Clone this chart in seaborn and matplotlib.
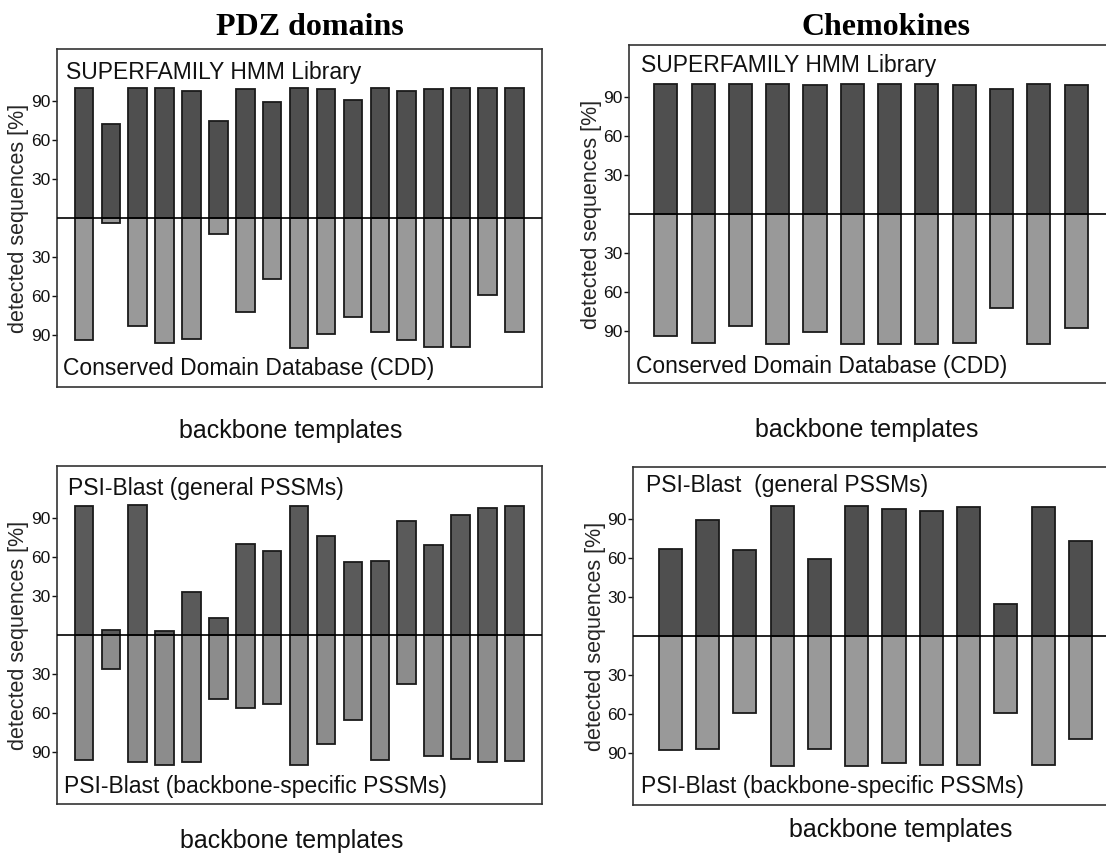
import matplotlib
matplotlib.use("Agg")
import matplotlib.pyplot as plt
import seaborn as sns
import pandas as pd

# detected sequences [%] per backbone template
pdz_superfamily = [100, 72, 100, 100, 98, 75, 99, 89, 100, 99, 91, 100, 98, 99, 100, 100, 100]
pdz_cdd = [94, 4, 83, 96, 93, 12, 72, 47, 100, 89, 76, 88, 94, 99, 99, 59, 88]
chemo_superfamily = [100, 100, 100, 100, 99, 100, 100, 100, 99, 96, 100, 99]
chemo_cdd = [94, 99, 86, 100, 91, 100, 100, 100, 99, 72, 100, 88]
pdz_psi_general = [99, 4, 100, 3, 33, 13, 70, 65, 99, 76, 56, 57, 88, 69, 92, 98, 99]
pdz_psi_specific = [96, 26, 98, 100, 98, 49, 56, 53, 100, 84, 65, 96, 38, 93, 95, 98, 97]
chemo_psi_general = [67, 89, 66, 100, 59, 100, 98, 96, 99, 25, 99, 73]
chemo_psi_specific = [88, 87, 59, 100, 87, 100, 98, 99, 99, 59, 99, 79]

yticks = [-90, -60, -30, 30, 60, 90]
ytick_labels = ["90", "60", "30", "30", "60", "90"]

sns.set_theme(style="white")
plt.rcParams["font.family"] = ["Liberation Sans", "DejaVu Sans"]

W, H = 1106, 856
fig = plt.figure(figsize=(W / 100, H / 100), dpi=100)


def px_axes(x0, y0, x1, y1):
    return fig.add_axes([x0 / W, 1 - y1 / H, (x1 - x0) / W, (y1 - y0) / H])


def px_text(x, y, s, **kw):
    fig.text(x / W, 1 - y / H, s, **kw)


def panel(ax, up, down, up_color, down_color, width, xmax, ylab_x):
    n = len(up)
    df = pd.DataFrame({"t": range(n), "up": up, "down": [-v for v in down]})
    sns.barplot(data=df, x="t", y="up", color=up_color, saturation=1, width=width,
                edgecolor="#1a1a1a", linewidth=1.3, errorbar=None, ax=ax)
    sns.barplot(data=df, x="t", y="down", color=down_color, saturation=1, width=width,
                edgecolor="#1a1a1a", linewidth=1.3, errorbar=None, ax=ax)
    ax.axhline(0, color="black", lw=1.2, zorder=5)
    ax.set_xlim(-1, xmax)
    ax.set_ylim(-130, 130)
    ax.set_xticks([])
    ax.set_yticks(yticks)
    ax.set_yticklabels(ytick_labels, fontsize=12.5)
    ax.tick_params(axis="y", direction="out", length=3.5, width=1, pad=1, left=True,
                   colors="#111111")
    ax.set_xlabel("")
    ax.set_ylabel("")
    for sp in ax.spines.values():
        sp.set_visible(True)
        sp.set_color("#333333")
        sp.set_linewidth(1.2)
    bbox = ax.get_position()
    fig.text(ylab_x / W, bbox.y0 + bbox.height / 2, "detected sequences [%]",
             rotation=90, ha="center", va="center", fontsize=15.5)


label_kw = dict(fontsize=16.5, va="baseline", ha="left", color="#111111")
xlab_kw = dict(fontsize=18, va="baseline", ha="center", color="#111111")

# PDZ domains, SUPERFAMILY / CDD
ax1 = px_axes(57, 49, 542, 387)
panel(ax1, pdz_superfamily, pdz_cdd, "#4f4f4f", "#999999", 0.69, 17.03, 19)
px_text(66, 79, "SUPERFAMILY HMM Library", **label_kw)
px_text(63, 375, "Conserved Domain Database (CDD)", **label_kw)
px_text(291, 438, "backbone templates", **xlab_kw)

# Chemokines, SUPERFAMILY / CDD
ax2 = px_axes(628.6, 45, 1135, 383)
panel(ax2, chemo_superfamily, chemo_cdd, "#4f4f4f", "#999999", 0.62, 12.58, 591)
px_text(641, 72, "SUPERFAMILY HMM Library", **label_kw)
px_text(636, 373, "Conserved Domain Database (CDD)", **label_kw)
px_text(867, 437, "backbone templates", **xlab_kw)

# PDZ domains, PSI-Blast
ax3 = px_axes(57, 466, 542, 804)
panel(ax3, pdz_psi_general, pdz_psi_specific, "#5a5a5a", "#8c8c8c", 0.69, 17.03, 19)
px_text(68, 495, "PSI-Blast (general PSSMs)", **label_kw)
px_text(64, 793, "PSI-Blast (backbone-specific PSSMs)", **label_kw)
px_text(292, 848, "backbone templates", **xlab_kw)

# Chemokines, PSI-Blast
ax4 = px_axes(633, 467, 1140, 805)
panel(ax4, chemo_psi_general, chemo_psi_specific, "#4f4f4f", "#999999", 0.62, 12.6, 595)
px_text(646, 492, "PSI-Blast  (general PSSMs)", **label_kw)
px_text(641, 793, "PSI-Blast (backbone-specific PSSMs)", **label_kw)
px_text(901, 837, "backbone templates", **xlab_kw)

title_kw = dict(fontsize=23, fontweight="bold", va="baseline", ha="center",
                family=["Liberation Serif", "DejaVu Serif"], color="black")
px_text(309.5, 35, "PDZ domains", **title_kw)
px_text(885.6, 35, "Chemokines", **title_kw)

fig.savefig("out.png", dpi=100, facecolor="white")
